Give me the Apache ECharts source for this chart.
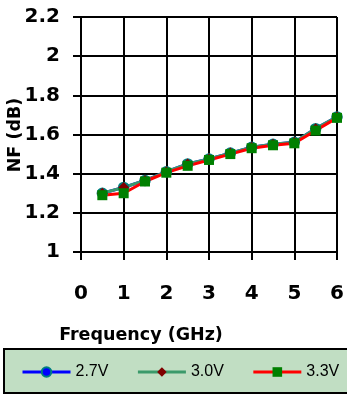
<!DOCTYPE html>
<html>
<head>
<meta charset="utf-8">
<script src="https://cdn.jsdelivr.net/npm/echarts@6/dist/echarts.min.js"></script>
<style>
  html, body { margin: 0; padding: 0; background: #ffffff; }
  #chart { width: 347px; height: 396px; }
</style>
</head>
<body>
<div id="chart"></div>
<script>
// Frequency points (GHz)
const freq = [0.5, 1.0, 1.5, 2.0, 2.5, 3.0, 3.5, 4.0, 4.5, 5.0, 5.5, 6.0];
// Noise figure (dB) per supply voltage
const nf27 = [1.30, 1.33, 1.365, 1.41, 1.45, 1.475, 1.505, 1.535, 1.55, 1.56, 1.63, 1.69];
const nf30 = [1.30, 1.33, 1.365, 1.41, 1.45, 1.475, 1.505, 1.535, 1.55, 1.56, 1.63, 1.69];
const nf33 = [1.29, 1.30, 1.36, 1.405, 1.44, 1.47, 1.50, 1.53, 1.545, 1.555, 1.62, 1.685];
const seriesNames = ['2.7V', '3.0V', '3.3V'];

const pairs = (ys) => freq.map((x, i) => [x, ys[i]]);
const boldFont = 'DejaVu Sans';

const chart = echarts.init(document.getElementById('chart'), null, { renderer: 'canvas' });

chart.setOption({
  animation: false,
  backgroundColor: '#ffffff',
  grid: { left: 81, right: 10, top: 17, bottom: 144 },
  xAxis: {
    type: 'value', min: 0, max: 6, interval: 1,
    axisLine: { show: true, onZero: false, lineStyle: { color: '#000', width: 2 } },
    axisTick: { show: true, length: 8, lineStyle: { color: '#000', width: 2 } },
    splitLine: { show: true, lineStyle: { color: '#000', width: 2 } },
    axisLabel: { color: '#000', fontFamily: boldFont, fontWeight: 'bold', fontSize: 20, margin: 32 }
  },
  yAxis: {
    type: 'value', min: 1, max: 2.2, interval: 0.2,
    axisLine: { show: true, lineStyle: { color: '#000', width: 2 } },
    axisTick: { show: true, length: 8, lineStyle: { color: '#000', width: 2 } },
    splitLine: { show: true, lineStyle: { color: '#000', width: 2 } },
    axisLabel: {
      color: '#000', fontFamily: boldFont, fontWeight: 'bold', fontSize: 20, margin: 21,
      formatter: (v) => String(Math.round(v * 10) / 10)
    }
  },
  legend: {
    data: seriesNames,
    orient: 'horizontal',
    left: 21, top: 364, width: 340,
    padding: 0,
    itemWidth: 48, itemHeight: 12, itemGap: 28,
    lineStyle: { width: 3 },
    textStyle: { fontFamily: 'Liberation Sans', fontSize: 16, color: '#000' }
  },
  graphic: [
    {
      type: 'rect', z: -1, silent: true,
      shape: { x: 4, y: 349, width: 350, height: 44 },
      style: { fill: '#c1dec3', stroke: '#000', lineWidth: 2 }
    },
    {
      type: 'text', silent: true,
      x: 141, y: 335,
      style: {
        text: 'Frequency (GHz)', align: 'center', verticalAlign: 'middle',
        font: 'bold 17.5px "DejaVu Sans"', fill: '#000'
      }
    },
    {
      type: 'text', silent: true,
      x: 15, y: 135, rotation: Math.PI / 2,
      style: {
        text: 'NF (dB)', align: 'center', verticalAlign: 'middle',
        font: 'bold 17.5px "DejaVu Sans"', fill: '#000'
      }
    }
  ],
  series: [
    {
      name: seriesNames[0], type: 'line', data: pairs(nf27),
      symbol: 'circle', symbolSize: 9,
      lineStyle: { color: '#0000ff', width: 3 },
      itemStyle: { color: '#0000ff', borderColor: '#008080', borderWidth: 2.5 }
    },
    {
      name: seriesNames[1], type: 'line', data: pairs(nf30),
      symbol: 'diamond', symbolSize: 11,
      lineStyle: { color: '#3b9a6b', width: 3 },
      itemStyle: { color: '#800000' }
    },
    {
      name: seriesNames[2], type: 'line', data: pairs(nf33),
      symbol: 'rect', symbolSize: 10,
      lineStyle: { color: '#ff0000', width: 3 },
      itemStyle: { color: '#008000' }
    }
  ]
});
</script>
</body>
</html>
